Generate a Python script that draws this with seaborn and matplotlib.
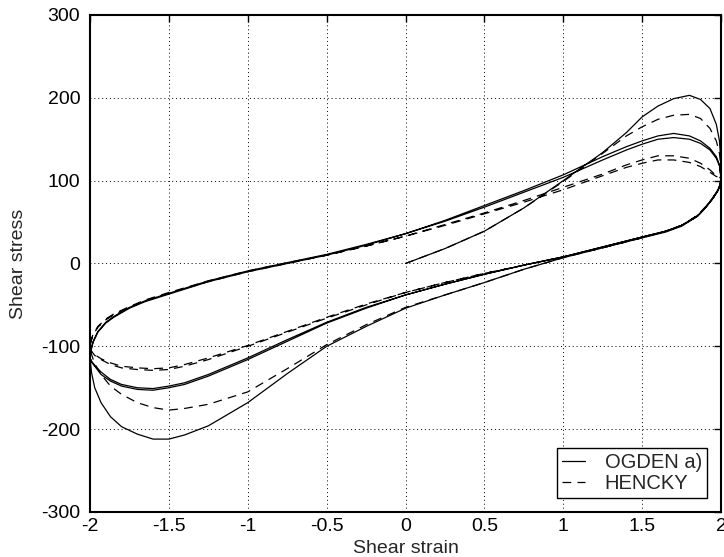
import pandas as pd
import seaborn as sns
import matplotlib.pyplot as plt

# strain positions (first loading, unloading 2 -> -2, reloading -2 -> 2)
load_strain = [0.0, 0.25, 0.5, 0.75, 1.0, 1.25, 1.4, 1.5, 1.6, 1.7, 1.8, 1.87, 1.93, 1.97, 1.99, 2.0]
down_strain = [2.0, 1.995, 1.98, 1.95, 1.9, 1.85, 1.75, 1.65, 1.5, 1.25, 1.0, 0.75, 0.5, 0.25, 0.0,
               -0.25, -0.5, -0.75, -1.0, -1.25, -1.4, -1.5, -1.6, -1.7, -1.8, -1.87, -1.93, -1.97,
               -1.99, -2.0]
up_strain = [-2.0, -1.995, -1.98, -1.95, -1.9, -1.85, -1.75, -1.65, -1.5, -1.25, -1.0, -0.75, -0.5,
             -0.25, 0.0, 0.25, 0.5, 0.75, 1.0, 1.25, 1.4, 1.5, 1.6, 1.7, 1.8, 1.87, 1.93, 1.97,
             1.99, 2.0]

# OGDEN a) (solid)
ogden_load = [0, 18, 39, 67, 100, 134, 158, 177, 190, 199, 203, 198, 187, 168, 148, 120]
ogden_down1 = [103, 95, 88, 79, 67, 57, 45, 38, 31, 19, 7, -7, -23, -38, -54,
               -76, -100, -133, -168, -196, -207, -212, -212, -206, -197, -185, -168, -150, -132, -114]
ogden_up1 = [-114, -106, -95, -83, -72, -65, -54, -46, -37, -22, -10, 0, 10, 22, 36,
             52, 70, 88, 107, 129, 141, 148, 154, 157, 154, 148, 139, 129, 119, 103]
ogden_down2 = [103, 95, 88, 79, 67, 57, 46, 39, 32, 20, 8, -2, -13, -25, -38,
               -54, -72, -94, -116, -136, -146, -150, -153, -152, -148, -142, -134, -124, -119, -114]
ogden_up2 = [-114, -105, -94, -82, -71, -64, -53, -45, -36, -21, -9, 1, 11, 23, 36,
             51, 68, 86, 104, 125, 137, 144, 150, 152, 150, 145, 137, 127, 118, 103]
ogden_down3 = [103, 95, 88, 79, 67, 57, 46, 39, 32, 20, 8, -2, -13, -25, -38,
               -53, -71, -92, -114, -134, -144, -148, -151, -150, -146, -140, -131, -123, -118, -114]

# HENCKY (dashed)
hencky_load = [0, 18, 39, 67, 99, 133, 154, 165, 174, 179, 180, 175, 163, 148, 133, 115]
hencky_down1 = [103, 95, 88, 79, 67, 57, 46, 39, 32, 19, 7, -7, -23, -38, -53,
                -74, -98, -127, -155, -170, -175, -177, -174, -168, -158, -148, -134, -121, -110, -103]
hencky_up1 = [-103, -95, -86, -77, -68, -62, -53, -45, -36, -22, -10, 0, 10, 21, 33,
              47, 61, 76, 92, 108, 119, 125, 130, 130, 127, 121, 113, 106, 104, 103]
hencky_down2 = [103, 96, 89, 80, 68, 58, 46, 39, 31, 19, 8, -2, -12, -23, -35,
                -50, -66, -83, -100, -116, -124, -128, -129, -128, -126, -122, -116, -111, -106, -103]
hencky_up2 = [-103, -94, -85, -76, -67, -61, -52, -44, -35, -21, -9, 1, 10, 21, 33,
              46, 60, 74, 89, 106, 116, 121, 125, 125, 122, 117, 110, 105, 104, 103]
hencky_down3 = [103, 96, 89, 80, 68, 58, 46, 39, 31, 19, 8, -2, -12, -23, -35,
                -49, -65, -82, -99, -114, -122, -126, -127, -126, -124, -120, -115, -110, -106, -103]

x_ticks = [-2, -1.5, -1, -0.5, 0, 0.5, 1, 1.5, 2]
x_tick_labels = ['-2', '-1.5', '-1', '-0.5', '0', '0.5', '1', '1.5', '2']
y_ticks = [-300, -200, -100, 0, 100, 200, 300]
y_tick_labels = ['-300', '-200', '-100', '0', '100', '200', '300']


def build_path(load, down1, up1, down2, up2, down3):
    xs, ys = [], []
    for sx, sy in [(load_strain, load), (down_strain, down1), (up_strain, up1),
                   (down_strain, down2), (up_strain, up2), (down_strain, down3)]:
        xs += sx
        ys += sy
    return pd.DataFrame({'strain': xs, 'stress': ys})


ogden = build_path(ogden_load, ogden_down1, ogden_up1, ogden_down2, ogden_up2, ogden_down3)
hencky = build_path(hencky_load, hencky_down1, hencky_up1, hencky_down2, hencky_up2, hencky_down3)

sns.set_style('white')
plt.rcParams['font.family'] = ['Liberation Sans', 'DejaVu Sans']
plt.rcParams['axes.unicode_minus'] = False

fig = plt.figure(figsize=(7.24, 5.57), dpi=100)
ax = fig.add_axes([0.1243, 0.0808, 0.8716, 0.8923])

sns.lineplot(data=ogden, x='strain', y='stress', sort=False, estimator=None,
             color='black', linewidth=0.9, label='OGDEN a)', ax=ax)
sns.lineplot(data=hencky, x='strain', y='stress', sort=False, estimator=None,
             color='black', linewidth=0.9, linestyle=(0, (7, 5)), label='HENCKY', ax=ax)

ax.set_xlim(-2, 2)
ax.set_ylim(-300, 300)
ax.set_xticks(x_ticks)
ax.set_xticklabels(x_tick_labels)
ax.set_yticks(y_ticks)
ax.set_yticklabels(y_tick_labels)
ax.grid(True, color='black', linestyle=(0, (1, 3)), linewidth=0.7)
for sp in ax.spines.values():
    sp.set_visible(True)
    sp.set_color('black')
    sp.set_linewidth(1.5)
ax.tick_params(direction='in', length=5, width=1, top=True, right=True,
               labelsize=14, colors='black')
ax.tick_params(axis='x', pad=4)
ax.tick_params(axis='y', pad=7)
ax.set_xlabel('Shear strain', fontsize=14, labelpad=4)
ax.set_ylabel('Shear stress', fontsize=14, labelpad=10)

leg = ax.legend(loc='lower right', frameon=True, fancybox=False, edgecolor='black',
                framealpha=1, fontsize=14.5, handlelength=1.1, handletextpad=1.0,
                borderpad=0.25, labelspacing=0.08, borderaxespad=0.7)
leg.get_frame().set_linewidth(1.0)

fig.savefig('out.png', dpi=100)
